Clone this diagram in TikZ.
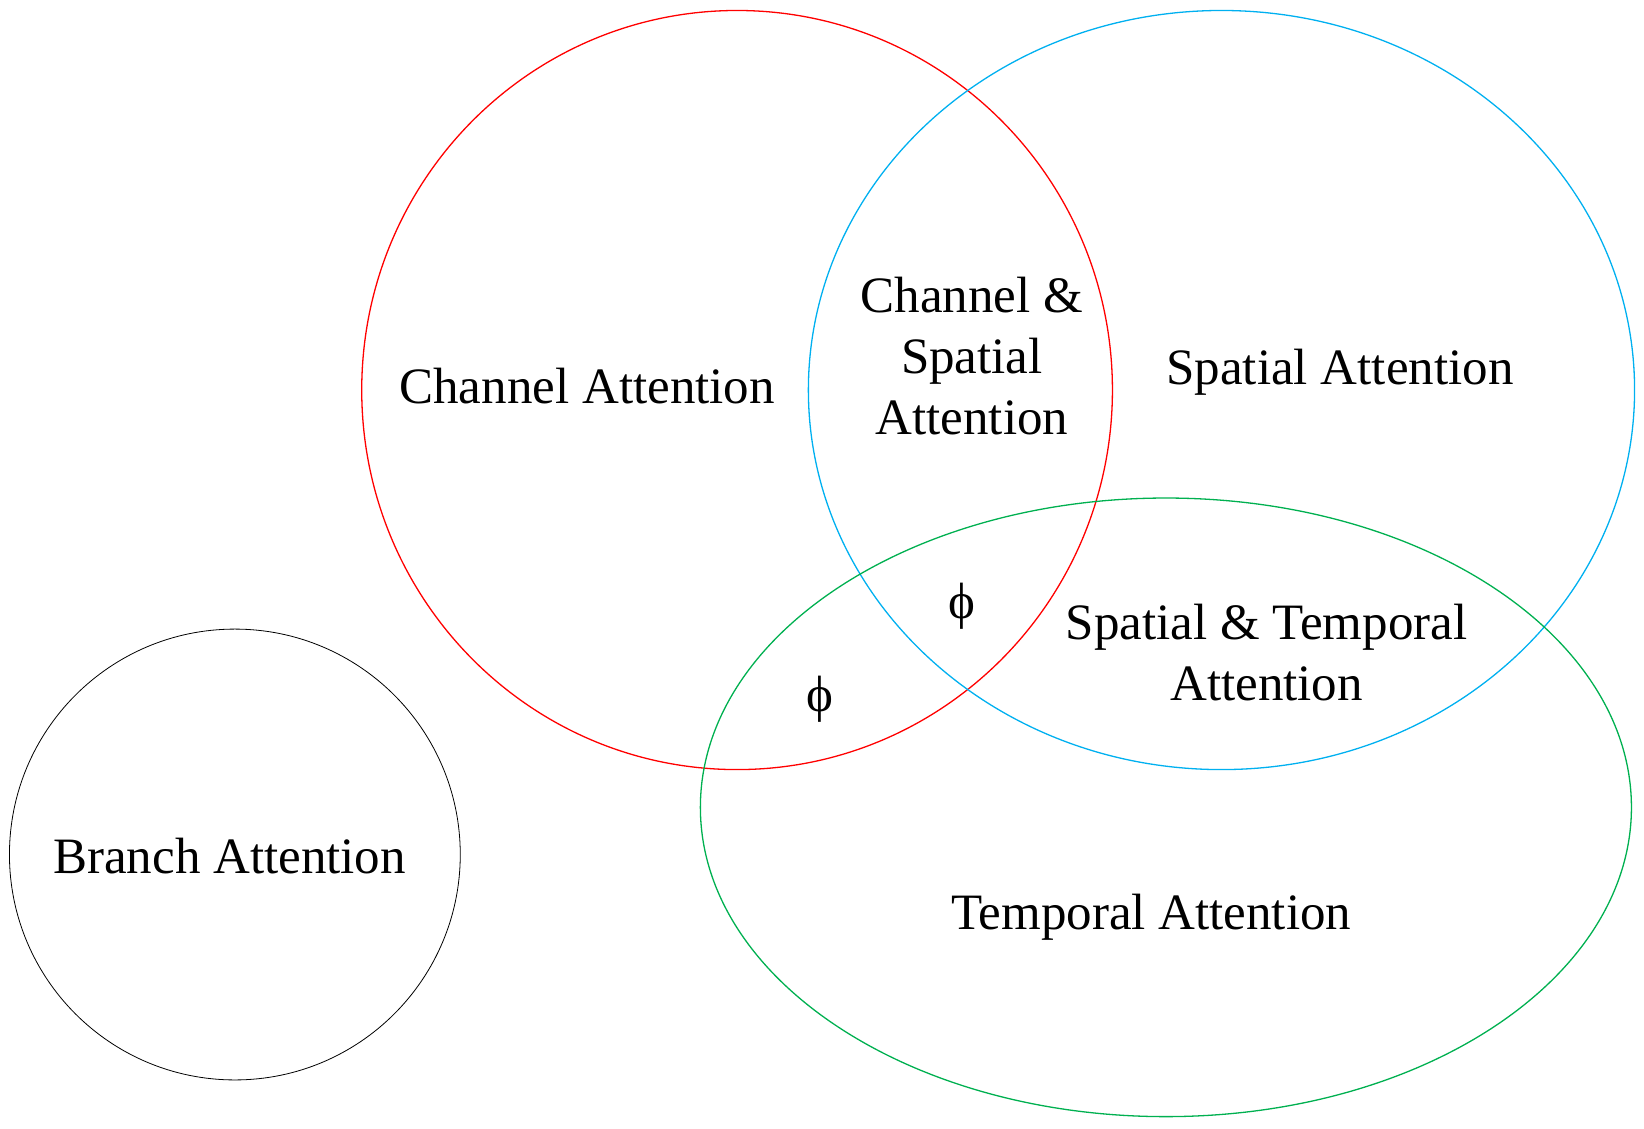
\documentclass[tikz,border=0pt]{standalone}
\usepackage{fontspec}
\setmainfont{Liberation Serif}
\begin{document}
\begin{tikzpicture}[x=1.0485pt,y=-1.0485pt,
  lab/.style={font=\fontsize{51}{61}\selectfont,align=center},
  ring/.style={line width=1.3pt}]
\useasboundingbox (0,0) rectangle (1568,1076);
\definecolor{cred}{RGB}{255,0,0}
\definecolor{cblue}{RGB}{0,176,240}
\definecolor{cgreen}{RGB}{0,176,80}
\draw[ring,cred] (703,372) ellipse [x radius=358,y radius=362];
\draw[ring,cblue] (1165,372) ellipse [x radius=394,y radius=362];
\draw[ring,cgreen] (1112,770) ellipse [x radius=444,y radius=295];
\draw[line width=0.8pt,black] (224,815) ellipse [x radius=215,y radius=215];
\node[lab] (ca) at (560,368) {Channel Attention};
\node[lab] (csa) at (927,340) {Channel \&\\Spatial\\Attention};
\node[lab] (sa) at (1278,355) {Spatial Attention};
\node[lab] (p1) at (917,578) {ϕ};
\node[lab] (p2) at (782,667) {ϕ};
\node[lab] (sta) at (1208,622) {Spatial \& Temporal\\Attention};
\node[lab] (ta) at (1098,875) {Temporal Attention};
\node[lab] (ba) at (219,816) {Branch Attention};
\end{tikzpicture}
\end{document}
